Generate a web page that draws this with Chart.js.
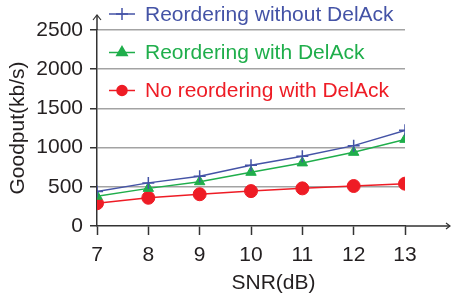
<!DOCTYPE html>
<html>
<head>
<meta charset="utf-8">
<script src="https://cdn.jsdelivr.net/npm/chart.js@4/dist/chart.umd.min.js"></script>
<style>
  html, body { margin: 0; padding: 0; background: #fff; }
  #wrap { width: 452px; height: 296px; }
</style>
</head>
<body>
<div id="wrap"><canvas id="myChart"></canvas></div>
<script>
const snr = [7, 8, 9, 10, 11, 12, 13];
const withoutDelAck = [440, 550, 635, 775, 890, 1025, 1220];
const withDelAck = [380, 480, 565, 685, 805, 940, 1105];
const noReordering = [290, 360, 405, 445, 480, 510, 540];
const yTicks = [0, 500, 1000, 1500, 2000, 2500];

const FONT = { family: "'Liberation Sans', Arial, sans-serif", size: 21 };
const TXT = '#231f20';
const AXIS = '#333333';

function pts(vals) {
    return snr.map((x, i) => ({ x: x, y: vals[i] }));
}

// legend drawn inside the plot, top left
const innerLegend = {
    id: 'innerLegend',
    afterDatasetsDraw(chart) {
        const ctx = chart.ctx;
        const rows = [14, 52.5, 90.5];
        chart.data.datasets.forEach((ds, i) => {
            const y = rows[i];
            ctx.save();
            ctx.strokeStyle = ds.borderColor;
            ctx.fillStyle = ds.pointBackgroundColor;
            ctx.lineWidth = 1.5;
            ctx.beginPath();
            ctx.moveTo(109, y);
            ctx.lineTo(135, y);
            ctx.stroke();
            Chart.helpers.drawPoint(ctx, {
                pointStyle: ds.pointStyle,
                radius: ds.legendRadius,
                rotation: 0,
                borderWidth: 1.5
            }, 122, y);
            ctx.fillStyle = ds.borderColor;
            ctx.font = FONT.size + 'px ' + FONT.family;
            ctx.textBaseline = 'middle';
            ctx.textAlign = 'left';
            ctx.fillText(ds.label, 145, y + 1);
            ctx.restore();
        });
    }
};

// axis arrows + x title centred on the full (extended) axis
const axisExtras = {
    id: 'axisExtras',
    afterDraw(chart) {
        const { ctx, chartArea } = chart;
        const endX = 450;
        ctx.save();
        ctx.strokeStyle = AXIS;
        ctx.lineWidth = 1.5;
        ctx.beginPath();
        ctx.moveTo(chartArea.right, chartArea.bottom);
        ctx.lineTo(endX, chartArea.bottom);
        ctx.moveTo(chartArea.left, chartArea.top);
        ctx.lineTo(chartArea.left, 15);
        ctx.stroke();
        ctx.lineWidth = 1.2;
        ctx.beginPath();
        ctx.moveTo(chartArea.left - 4, 20);
        ctx.lineTo(chartArea.left, 15);
        ctx.lineTo(chartArea.left + 4, 20);
        ctx.moveTo(endX - 4, chartArea.bottom - 3);
        ctx.lineTo(endX, chartArea.bottom);
        ctx.lineTo(endX - 4, chartArea.bottom + 3);
        ctx.stroke();

        ctx.fillStyle = TXT;
        ctx.font = FONT.size + 'px ' + FONT.family;
        ctx.textAlign = 'center';
        ctx.textBaseline = 'middle';
        ctx.fillText('SNR(dB)', (chartArea.left + endX) / 2, 283);
        ctx.restore();
    }
};

new Chart(document.getElementById('myChart'), {
    type: 'line',
    data: {
        datasets: [
            {
                label: 'Reordering without DelAck',
                data: pts(withoutDelAck),
                borderColor: '#4453a6',
                pointBackgroundColor: '#4453a6',
                pointBorderColor: '#4453a6',
                pointStyle: 'cross',
                pointRadius: 6,
                pointBorderWidth: 1.5,
                legendRadius: 6,
                borderWidth: 1.5
            },
            {
                label: 'Reordering with DelAck',
                data: pts(withDelAck),
                borderColor: '#1fae4b',
                pointBackgroundColor: '#1fae4b',
                pointBorderColor: '#1fae4b',
                pointStyle: 'triangle',
                pointRadius: 6,
                pointBorderWidth: 1,
                legendRadius: 6,
                borderWidth: 1.5
            },
            {
                label: 'No reordering with DelAck',
                data: pts(noReordering),
                borderColor: '#ee1c25',
                pointBackgroundColor: '#ee1c25',
                pointBorderColor: '#ee1c25',
                pointStyle: 'circle',
                pointRadius: 6.5,
                pointBorderWidth: 1,
                legendRadius: 5,
                borderWidth: 1.5
            }
        ]
    },
    options: {
        responsive: true,
        maintainAspectRatio: false,
        animation: false,
        devicePixelRatio: 1,
        layout: { padding: { top: 30, right: 47, left: 0, bottom: 0 } },
        plugins: {
            legend: { display: false },
            tooltip: { enabled: false }
        },
        scales: {
            x: {
                type: 'linear',
                min: 7,
                max: 13,
                afterFit: (s) => { s.height = 70; },
                afterBuildTicks: (s) => { s.ticks = snr.map(v => ({ value: v })); },
                ticks: { font: FONT, color: TXT, padding: 8, maxRotation: 0, callback: (v) => String(v) },
                grid: {
                    drawOnChartArea: false,
                    drawTicks: true,
                    tickLength: 9,
                    tickColor: AXIS,
                    tickWidth: 1.5
                },
                border: { color: AXIS, width: 1.5 }
            },
            y: {
                min: 0,
                max: 2500,
                afterFit: (s) => { s.width = 97; },
                afterBuildTicks: (s) => { s.ticks = yTicks.map(v => ({ value: v })); },
                ticks: { font: FONT, color: TXT, padding: 7, callback: (v) => String(v) },
                title: {
                    display: true,
                    text: 'Goodput(kb/s)',
                    font: FONT,
                    color: TXT,
                    padding: { top: 6, bottom: 0 }
                },
                grid: {
                    color: (c) => (c.tick && c.tick.value === 0) ? 'rgba(0,0,0,0)' : '#a3a3a3',
                    lineWidth: 1.5,
                    tickLength: 7,
                    tickColor: AXIS,
                    tickWidth: 1.5
                },
                border: { color: AXIS, width: 1.5 }
            }
        }
    },
    plugins: [innerLegend, axisExtras]
});
</script>
</body>
</html>
